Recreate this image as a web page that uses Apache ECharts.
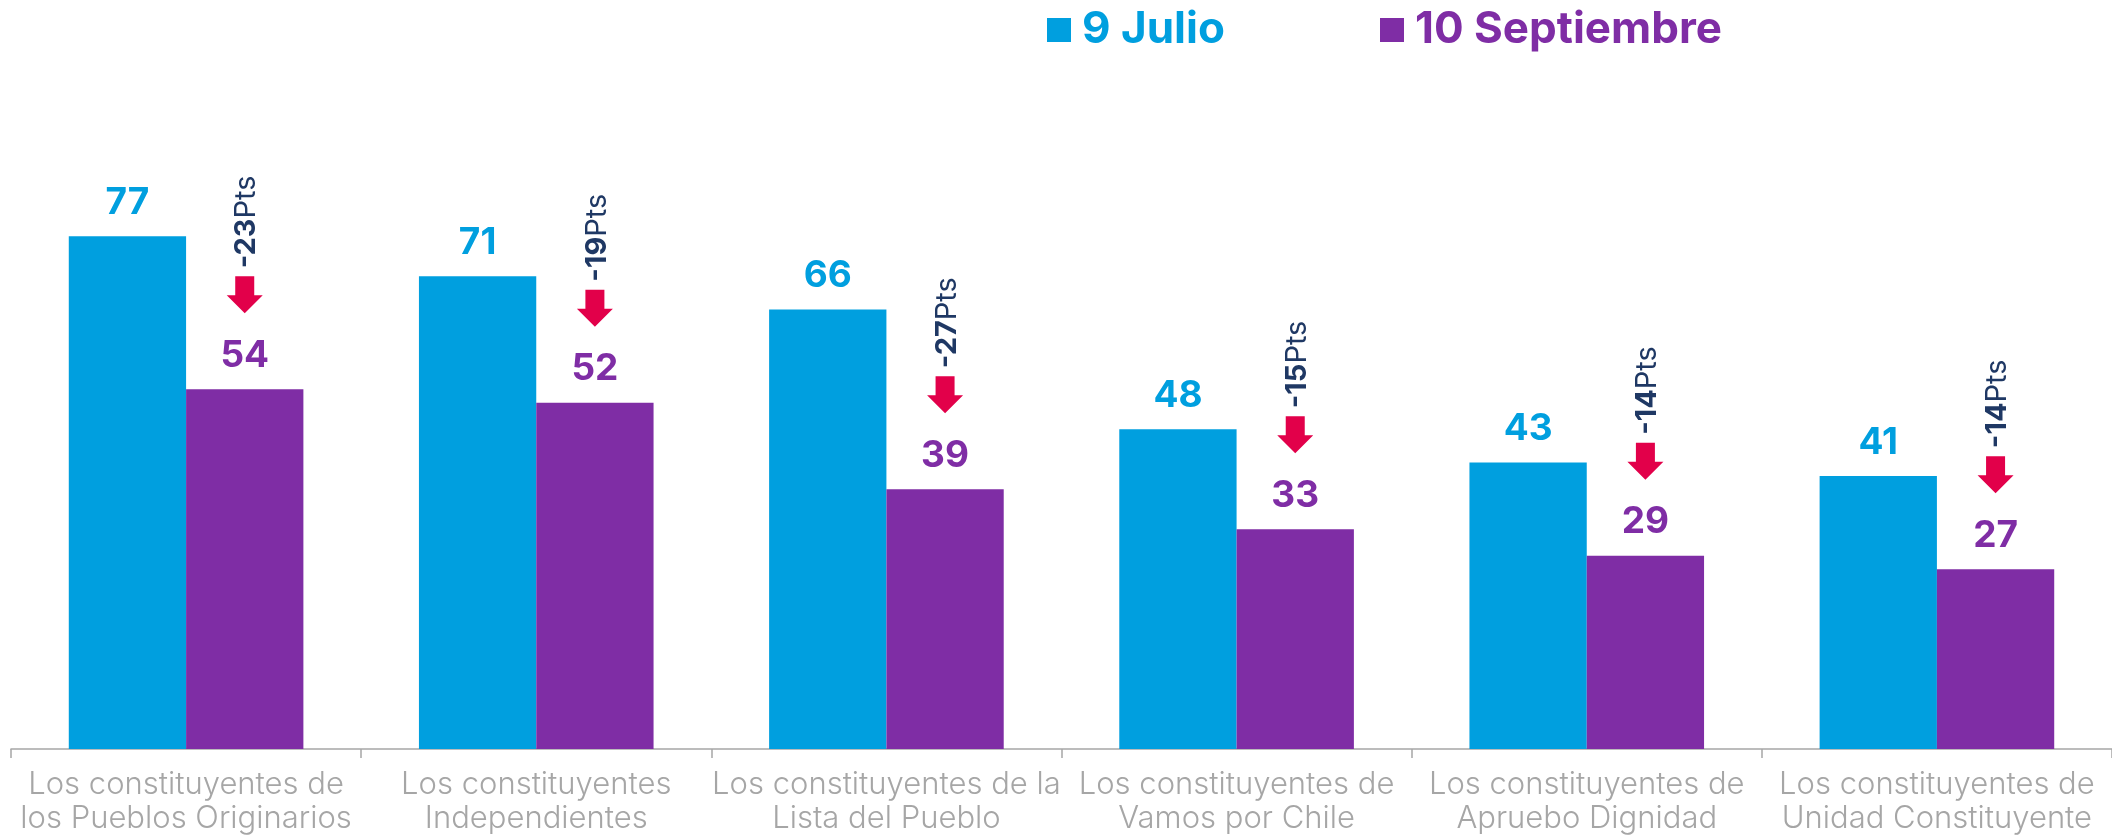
<!DOCTYPE html>
<html>
<head>
<meta charset="utf-8">
<script src="https://cdn.jsdelivr.net/npm/echarts@6/dist/echarts.min.js"></script>
<style>
html,body{margin:0;padding:0;background:#fff;}
#chart{width:2112px;height:838px;}
</style>
</head>
<body>
<div id="chart"></div>
<script>
const categories = [
  'Los constituyentes de\nlos Pueblos Originarios',
  'Los constituyentes\nIndependientes',
  'Los constituyentes de la\nLista del Pueblo',
  'Los constituyentes de\nVamos por Chile',
  'Los constituyentes de\nApruebo Dignidad',
  'Los constituyentes de\nUnidad Constituyente'
];
const julio = [77, 71, 66, 48, 43, 41];
const septiembre = [54, 52, 39, 33, 29, 27];
const drops = [-23, -19, -27, -15, -14, -14];
const seriesNames = ['9 Julio', '10 Septiembre'];

const BLUE = '#009fdf';
const PURPLE = '#7f2da5';
const NAVY = '#1f3864';
const RED = '#e2004a';
const GAP = 0.33;

const chart = echarts.init(document.getElementById('chart'));

const legendBase = {
  orient: 'horizontal',
  top: 6,
  padding: 0,
  icon: 'rect',
  itemWidth: 24,
  itemHeight: 24,
  selectedMode: false
};

chart.setOption({
  animation: false,
  backgroundColor: '#ffffff',
  legend: [
    Object.assign({}, legendBase, {
      left: 1047,
      data: [seriesNames[0]],
      textStyle: {color: BLUE, fontFamily: 'Inter', fontWeight: 'bold', fontSize: 44, lineHeight: 48, padding: [0,0,0,6]}
    }),
    Object.assign({}, legendBase, {
      left: 1380,
      data: [seriesNames[1]],
      textStyle: {color: PURPLE, fontFamily: 'Inter', fontWeight: 'bold', fontSize: 44, lineHeight: 48, padding: [0,0,0,6]}
    })
  ],
  grid: {left: 11, right: -13, top: 83, bottom: 89, containLabel: false},
  xAxis: {
    type: 'category',
    data: categories,
    axisLine: {lineStyle: {color: '#a6a6a6', width: 1.5}},
    axisTick: {show: true, length: 9, lineStyle: {color: '#a6a6a6', width: 1.5}},
    axisLabel: {
      interval: 0,
      color: '#a6a6a6',
      fontFamily: 'Inter',
      fontWeight: 300,
      fontSize: 31,
      lineHeight: 34,
      margin: 19
    }
  },
  yAxis: {
    type: 'value',
    min: 0,
    max: 100,
    show: false,
    splitLine: {show: false}
  },
  series: [
    {
      name: seriesNames[0],
      type: 'bar',
      data: julio,
      barGap: '0%',
      barCategoryGap: (GAP * 100) + '%',
      itemStyle: {color: BLUE},
      label: {show: true, position: 'top', distance: 15, color: BLUE,
        fontFamily: 'Inter', fontWeight: 'bold', fontSize: 37}
    },
    {
      name: seriesNames[1],
      type: 'bar',
      data: septiembre,
      barGap: '0%',
      barCategoryGap: (GAP * 100) + '%',
      itemStyle: {color: PURPLE},
      label: {show: true, position: 'top', distance: 15, color: PURPLE,
        fontFamily: 'Inter', fontWeight: 'bold', fontSize: 37}
    },
    {
      name: 'cambio',
      type: 'custom',
      data: septiembre.map((v, i) => [i, v, drops[i]]),
      encode: {x: 0, y: 1},
      z: 5,
      renderItem: function (params, api) {
        const p = api.coord([api.value(0), api.value(1)]);
        const band = api.size([1, 0])[0];
        const barW = band * (1 - GAP) / 2;
        const cx = p[0] + barW / 2;
        const top = p[1];
        const d = api.value(2);
        return {
          type: 'group',
          children: [
            {
              type: 'polygon',
              shape: {points: [
                [cx - 9.5, top - 113], [cx + 9.5, top - 113], [cx + 9.5, top - 94],
                [cx + 18, top - 94], [cx, top - 76], [cx - 18, top - 94], [cx - 9.5, top - 94]
              ]},
              style: {fill: RED}
            },
            {
              type: 'text',
              x: cx + 2,
              y: top - 121,
              rotation: Math.PI / 2,
              style: {
                text: '{b|' + String(d) + '}{r|Pts}',
                align: 'left',
                verticalAlign: 'middle',
                rich: {
                  b: {fontFamily: 'Inter', fontWeight: 'bold', fontSize: 29, fill: NAVY, color: NAVY},
                  r: {fontFamily: 'Inter', fontWeight: 'normal', fontSize: 29, fill: NAVY, color: NAVY}
                }
              }
            }
          ]
        };
      }
    }
  ]
});
</script>
</body>
</html>
